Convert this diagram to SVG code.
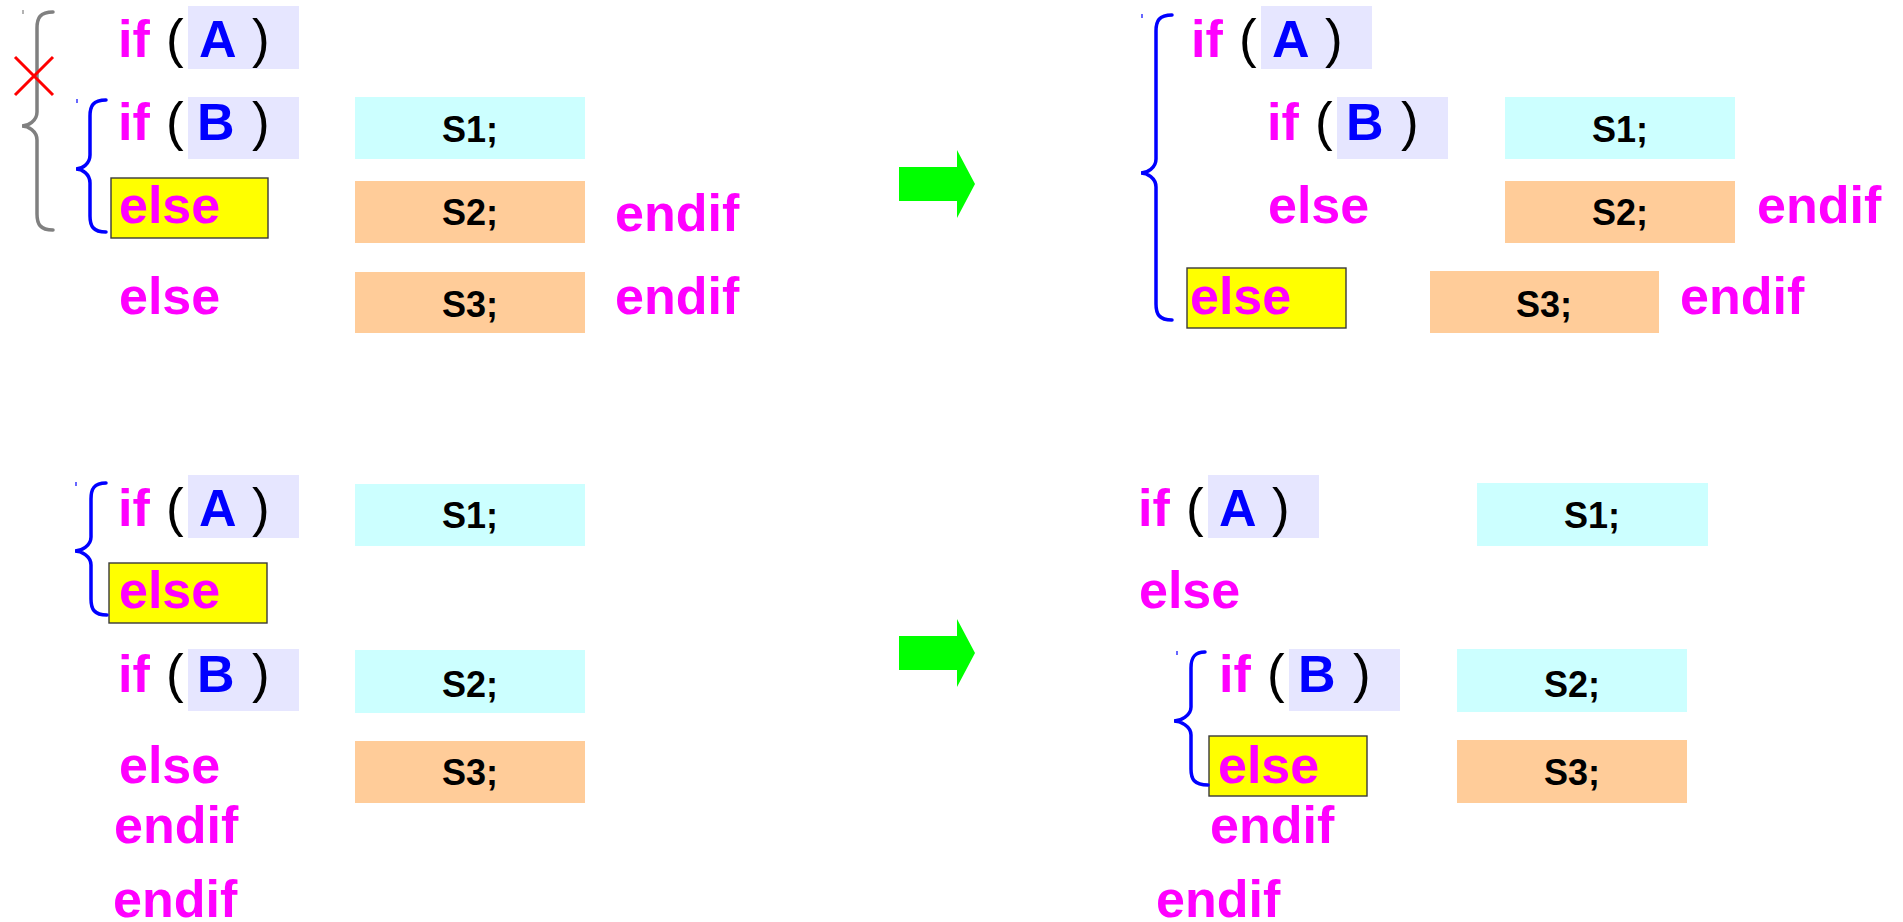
<svg xmlns="http://www.w3.org/2000/svg" width="1903" height="922" viewBox="0 0 1903 922">
<defs>
<style>
.kw{font-family:"Liberation Sans",Arial,sans-serif;font-weight:bold;font-size:52px;fill:#FF00FF}
.var{font-family:"Liberation Sans",Arial,sans-serif;font-weight:bold;font-size:52px;fill:#0000FF}
.par{font-family:"Liberation Sans",Arial,sans-serif;font-size:53px;fill:#000000}
.st{font-family:"Liberation Sans",Arial,sans-serif;font-weight:bold;font-size:36px;fill:#000000;text-anchor:middle}
.cond{fill:#E6E6FF}
.then{fill:#CCFFFF}
.els{fill:#FFCC99}
.hl{fill:#FFFF00;stroke:#3a3a3a;stroke-width:1.4}
.brace{fill:none;stroke:#0000FF;stroke-width:3.5;stroke-linecap:round}
.gbrace{fill:none;stroke:#808080;stroke-width:3.5;stroke-linecap:round}
.tick{stroke-width:1.2}
.arrow{fill:#00FF00}
</style>
<g id="tplA">
<rect class="cond" x="188" y="6" width="111" height="63"/>
<text class="kw" x="118" y="57">if</text>
<text class="par" x="166" y="57">(</text>
<text class="var" x="199" y="57">A</text>
<text class="par" x="252" y="57">)</text>
</g>
<g id="tplB">
<rect class="cond" x="188" y="97" width="111" height="62"/>
<text class="kw" x="118" y="140">if</text>
<text class="par" x="166" y="140">(</text>
<text class="var" x="197" y="140">B</text>
<text class="par" x="252" y="140">)</text>
</g>
</defs>
<rect width="1903" height="922" fill="#FFFFFF"/>

<!-- Top-left panel -->
<g id="tl-ifA"><use href="#tplA"/></g>
<g id="tl-ifB"><use href="#tplB"/></g>
<g id="tl-else1"><rect class="hl" x="111" y="178" width="157" height="60"/><text class="kw" x="119" y="223">else</text></g>
<g id="tl-s1"><rect class="then" x="355" y="97" width="230" height="62"/><text class="st" x="470" y="142">S1;</text></g>
<g id="tl-s2"><rect class="els" x="355" y="181" width="230" height="62"/><text class="st" x="470" y="225">S2;</text></g>
<g id="tl-endif1"><text class="kw" x="615" y="231">endif</text></g>
<g id="tl-else2"><text class="kw" x="119" y="314">else</text></g>
<g id="tl-s3"><rect class="els" x="355" y="272" width="230" height="61"/><text class="st" x="470" y="317">S3;</text></g>
<g id="tl-endif2"><text class="kw" x="615" y="314">endif</text></g>

<!-- Top-right panel -->
<g id="tr-ifA"><use href="#tplA" transform="translate(1073,0)"/></g>
<g id="tr-ifB"><use href="#tplB" transform="translate(1149,0)"/></g>
<g id="tr-s1"><rect class="then" x="1505" y="97" width="230" height="62"/><text class="st" x="1620" y="142">S1;</text></g>
<g id="tr-else1"><text class="kw" x="1268" y="223">else</text></g>
<g id="tr-s2"><rect class="els" x="1505" y="181" width="230" height="62"/><text class="st" x="1620" y="225">S2;</text></g>
<g id="tr-endif1"><text class="kw" x="1757" y="223">endif</text></g>
<g id="tr-else2"><rect class="hl" x="1187" y="268" width="159" height="60"/><text class="kw" x="1190" y="314">else</text></g>
<g id="tr-s3"><rect class="els" x="1430" y="271" width="229" height="62"/><text class="st" x="1544" y="317">S3;</text></g>
<g id="tr-endif2"><text class="kw" x="1680" y="314">endif</text></g>

<!-- Bottom-left panel -->
<g id="bl-ifA"><use href="#tplA" transform="translate(0,469)"/></g>
<g id="bl-s1"><rect class="then" x="355" y="484" width="230" height="62"/><text class="st" x="470" y="528">S1;</text></g>
<g id="bl-else1"><rect class="hl" x="109" y="563" width="158" height="60"/><text class="kw" x="119" y="608">else</text></g>
<g id="bl-ifB"><use href="#tplB" transform="translate(0,552)"/></g>
<g id="bl-s2"><rect class="then" x="355" y="650" width="230" height="63"/><text class="st" x="470" y="697">S2;</text></g>
<g id="bl-else2"><text class="kw" x="119" y="783">else</text></g>
<g id="bl-s3"><rect class="els" x="355" y="741" width="230" height="62"/><text class="st" x="470" y="785">S3;</text></g>
<g id="bl-endif1"><text class="kw" x="114" y="843">endif</text></g>
<g id="bl-endif2"><text class="kw" x="113" y="917">endif</text></g>

<!-- Bottom-right panel -->
<g id="br-ifA"><use href="#tplA" transform="translate(1020,469)"/></g>
<g id="br-s1"><rect class="then" x="1477" y="483" width="231" height="63"/><text class="st" x="1592" y="528">S1;</text></g>
<g id="br-else1"><text class="kw" x="1139" y="608">else</text></g>
<g id="br-ifB"><use href="#tplB" transform="translate(1101,552)"/></g>
<g id="br-s2"><rect class="then" x="1457" y="649" width="230" height="63"/><text class="st" x="1572" y="697">S2;</text></g>
<g id="br-else2"><rect class="hl" x="1209" y="736" width="158" height="60"/><text class="kw" x="1218" y="783">else</text></g>
<g id="br-s3"><rect class="els" x="1457" y="740" width="230" height="63"/><text class="st" x="1572" y="785">S3;</text></g>
<g id="br-endif1"><text class="kw" x="1210" y="843">endif</text></g>
<g id="br-endif2"><text class="kw" x="1156" y="917">endif</text></g>

<!-- Connectors: braces, cross and arrows -->
<g id="connectors">
<path class="gbrace" d="M53,12 C40,12 37,18 37,28 L37,112 C37,121 28,126 22,126 C28,126 37,131 37,140 L37,214 C37,224 40,230 53,230"/>
<line x1="23" y1="10" x2="23" y2="14" stroke="#808080" class="tick"/>
<path d="M15,57 L53,95 M53,57 L15,95" stroke="#FF0000" stroke-width="3" fill="none"/>
<path class="brace" d="M106,100 C93,100 90,106 90,116 L90,155 C90,164 82,169 76,169 C82,169 90,174 90,183 L90,216 C90,226 93,232 106,232"/>
<line x1="77" y1="99" x2="77" y2="103" stroke="#0000FF" class="tick"/>
<path class="brace" d="M1172,15 C1159,15 1156,21 1156,31 L1156,159 C1156,168 1147,173 1141,173 C1147,173 1156,178 1156,187 L1156,304 C1156,314 1159,320 1172,320"/>
<line x1="1142" y1="14" x2="1142" y2="18" stroke="#0000FF" class="tick"/>
<path class="brace" d="M106,483 C94,483 91,489 91,499 L91,537 C91,546 81,551 75,551 C81,551 91,556 91,565 L91,599 C91,609 94,615 107,615"/>
<line x1="76" y1="482" x2="76" y2="486" stroke="#0000FF" class="tick"/>
<path class="brace" d="M1205,652 C1194,652 1191,658 1191,668 L1191,707 C1191,716 1180,721 1174,721 C1180,721 1191,726 1191,735 L1191,769 C1191,779 1194,785 1208,785"/>
<line x1="1177" y1="651" x2="1177" y2="655" stroke="#0000FF" class="tick"/>
<polygon class="arrow" points="899,167 957,167 957,150 975,184 957,218 957,201 899,201"/>
<polygon class="arrow" points="899,636 957,636 957,619 975,653 957,687 957,670 899,670"/>
</g>
</svg>
